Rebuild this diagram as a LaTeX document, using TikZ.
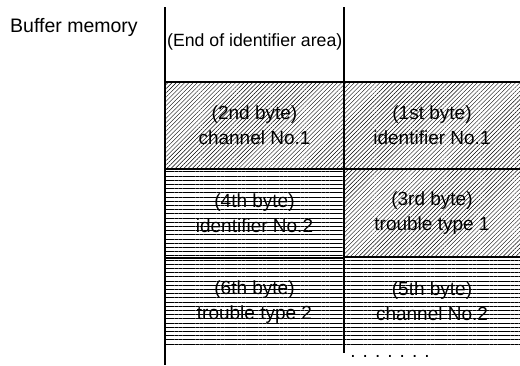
\documentclass[tikz,border=0pt]{standalone}
\usepackage{fontspec}
\setmainfont{Liberation Sans}
\usetikzlibrary{patterns.meta,positioning}

\begin{document}
\begin{tikzpicture}[x=1pt,y=-1pt,
    cell/.style={inner sep=0pt,outer sep=0pt,anchor=north west,align=center,font=\fontsize{19}{25}\selectfont},
    diag/.style={cell,pattern={Lines[angle=45,distance=3pt,line width=0.45pt]}},
    horiz/.style={cell,pattern={Lines[angle=0,distance=4.2pt,line width=1pt]}},
    wall/.style={line width=1.6pt}
]
    \useasboundingbox (0,0) rectangle (520,365);

    % memory cells, two bytes per row
    \node[diag,minimum width=179pt,minimum height=87pt] (b2) at (165,82) {(2nd byte)\\channel No.1};
    \node[diag,minimum width=176pt,minimum height=87pt] (b1) at (344,82) {(1st byte)\\identifier No.1};
    \node[horiz,minimum width=179pt,minimum height=89pt] (b4) at (165,169) {(4th byte)\\identifier No.2};
    \node[diag,minimum width=176pt,minimum height=88pt] (b3) at (344,169) {(3rd byte)\\trouble type 1};
    \node[horiz,minimum width=179pt,minimum height=88pt] (b6) at (165,258) {(6th byte)\\trouble type 2};
    \node[horiz,minimum width=176pt,minimum height=88pt] (b5) at (344,257) {(5th byte)\\channel No.2};

    \node[anchor=west,inner sep=0pt,font=\fontsize{19.5}{22}\selectfont] (title) at (10,27) {Buffer memory};
    \node[anchor=west,inner sep=0pt,font=\fontsize{17.7}{20}\selectfont] (endid) at (167,42) {(End of identifier area)};
    \node[inner sep=0pt,font=\fontsize{19}{20}\selectfont] (dots) at (390,356) {. . . . . . .};

    % column walls
    \coordinate (lt) at (165,7);
    \coordinate (lb) at (165,365);
    \coordinate (mt) at (344,7);
    \coordinate (mb) at (344,353);
    \draw[wall] (lt) -- (lb);
    \draw[wall] (mt) -- (mb);

    % row walls
    \draw[wall] (b2.north west) -- (b1.north east);
    \draw[wall] (b4.north west) -- (b3.north east);
    \draw[wall] (b6.north west) -- (b6.north east);
    \draw[wall] (b5.north west) -- (b5.north east);
\end{tikzpicture}
\end{document}
